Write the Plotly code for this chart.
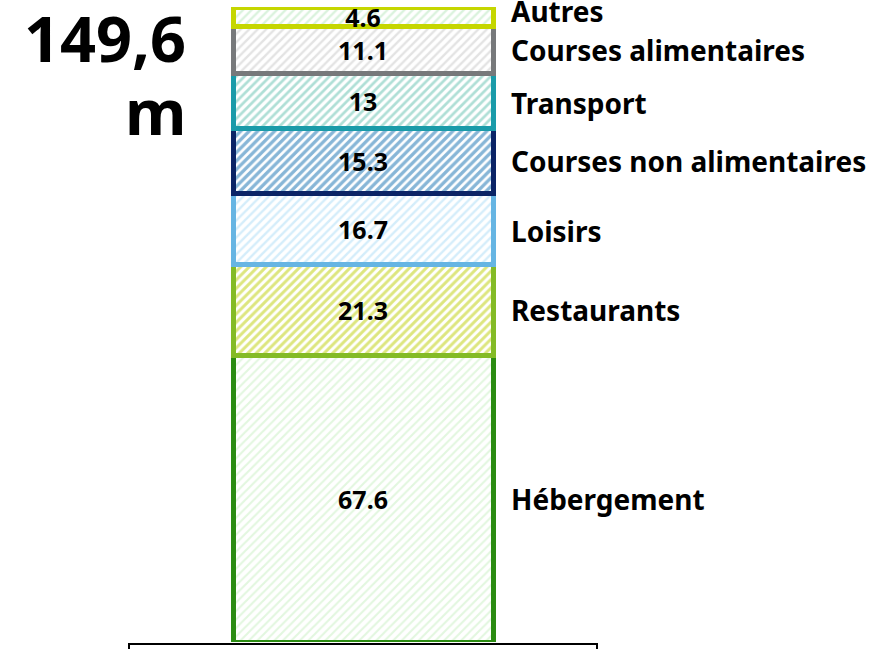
import plotly.graph_objects as go

categories = ["Hébergement", "Restaurants", "Loisirs", "Courses non alimentaires",
              "Transport", "Courses alimentaires", "Autres"]
values = [67.6, 21.3, 16.7, 15.3, 13, 11.1, 4.6]
total_label = "149,6"
unit_label = "m"

border_colors = ["#2b8c12", "#84bb26", "#66b5e3", "#0b2466", "#1a9ba9", "#77797b", "#c5d600"]
pattern_colors = ["#c6efbf", "#bccd00", "#aadcf6", "#0f6db0", "#5fbfae", "#c8c8c8", "#b6e6bb"]
pattern_solidity = [0.35, 0.5, 0.4, 0.55, 0.45, 0.4, 0.4]

fig = go.Figure()
for name, v, bc, pc, sol in zip(categories, values, border_colors, pattern_colors, pattern_solidity):
    fig.add_trace(go.Bar(
        x=[0], y=[v], name=name, width=1,
        marker=dict(color="white", line=dict(color=bc, width=5),
                    pattern=dict(shape="/", fgcolor=pc, bgcolor="white", size=6, solidity=sol)),
        text=[str(v)], textposition="inside", insidetextanchor="middle",
        textfont=dict(family="Noto Sans", size=25, color="black", weight="bold"),
        cliponaxis=False,
    ))

cum = 0
label_shift = {"Autres": 6, "Transport": -2, "Loisirs": -2}
for name, v in zip(categories, values):
    mid = cum + v / 2
    cum += v
    fig.add_annotation(x=509 / 895, xref="paper", y=mid, yref="y", text=f"<b>{name}</b>",
                       showarrow=False, xanchor="left", yanchor="middle",
                       yshift=label_shift.get(name, 0),
                       font=dict(family="Noto Sans", size=28, color="black"))

fig.add_annotation(x=188 / 895, xref="paper", y=1 - (38 - 7) / 635, yref="paper",
                   text=f"<b>{total_label}</b>",
                   showarrow=False, xanchor="right", yanchor="middle",
                   font=dict(family="Noto Sans", size=63, color="black"))
fig.add_annotation(x=188 / 895, xref="paper", y=1 - (110 - 7) / 635, yref="paper",
                   text=f"<b>{unit_label}</b>",
                   showarrow=False, xanchor="right", yanchor="middle",
                   font=dict(family="Noto Sans", size=63, color="black"))

fig.add_shape(type="rect", xref="paper", yref="paper",
              x0=129 / 895, x1=597 / 895, y0=-2 / 635, y1=-30 / 635,
              line=dict(color="black", width=2), fillcolor="white", layer="above")

a = -0.5 - 233 / 260
fig.update_layout(
    width=895, height=649, barmode="stack", showlegend=False,
    margin=dict(l=0, r=0, t=7, b=7),
    paper_bgcolor="white", plot_bgcolor="white",
    uniformtext=dict(mode="show", minsize=25),
    xaxis=dict(range=[a, a + 895 / 260], visible=False, fixedrange=True),
    yaxis=dict(range=[0, sum(values)], visible=False, fixedrange=True),
)
fig.write_html("out.html", config={"displayModeBar": False},
               post_script="document.body.style.margin='0';document.body.style.overflow='hidden';")
